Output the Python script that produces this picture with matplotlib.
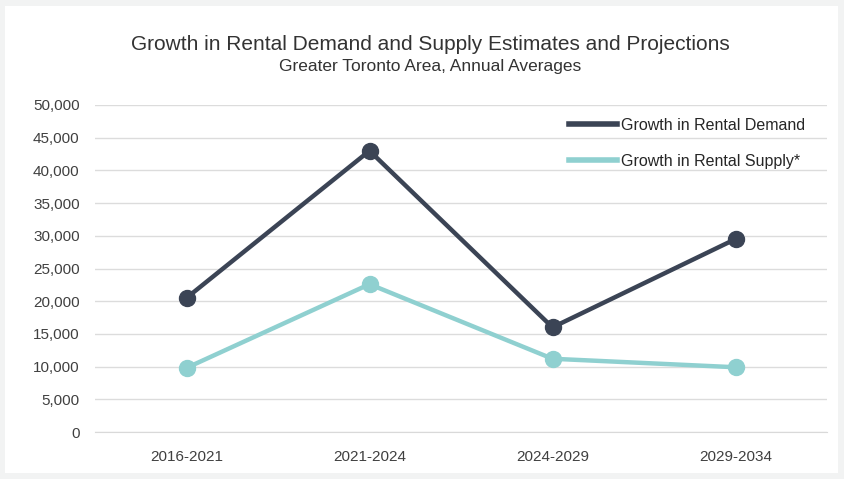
import matplotlib.pyplot as plt
from matplotlib.patches import Rectangle
from matplotlib.lines import Line2D
from matplotlib.ticker import FuncFormatter

# annual averages, Greater Toronto Area
periods = ["2016-2021", "2021-2024", "2024-2029", "2029-2034"]
rental_demand = [20500, 43000, 16000, 29500]
rental_supply = [9800, 22600, 11200, 9900]

plt.rcParams['font.family'] = ['Liberation Sans', 'DejaVu Sans']

demand_color = '#3b4455'
supply_color = '#8fd0d0'

W, H = 844, 479
fig = plt.figure(figsize=(W / 100, H / 100), dpi=100, facecolor='#f2f3f3')

# white card on the light grey frame
fig.patches.append(Rectangle((5 / W, 1 - 473 / H), 833 / W, 467 / H,
                             transform=fig.transFigure, facecolor='white',
                             edgecolor='none', zorder=-10))

ax = fig.add_axes([95 / W, 1 - 432 / H, 732 / W, 327 / H])
ax.set_facecolor('none')

x = range(len(periods))
ax.plot(x, rental_demand, color=demand_color, linewidth=3.2, marker='o',
        markersize=11.5, zorder=3)
ax.plot(x, rental_supply, color=supply_color, linewidth=3.2, marker='o',
        markersize=11.5, zorder=3)

ax.set_xlim(-0.5, 3.5)
ax.set_ylim(0, 50000)
ax.set_yticks(range(0, 50001, 5000))
ax.yaxis.set_major_formatter(FuncFormatter(lambda v, p: f"{int(v):,}"))
ax.set_xticks(list(x))
ax.set_xticklabels(periods)

ax.grid(axis='y', color='#dcdcdc', linewidth=1)
ax.set_axisbelow(True)
for side in ['top', 'right', 'left']:
    ax.spines[side].set_visible(False)
ax.spines['bottom'].set_color('#d9d9d9')
ax.tick_params(axis='both', length=0, colors='#404040')
ax.tick_params(axis='y', labelsize=11, pad=11)
ax.tick_params(axis='x', labelsize=11, pad=13)

# legend shows plain line swatches
handles = [Line2D([], [], color=demand_color, linewidth=4),
           Line2D([], [], color=supply_color, linewidth=4)]
ax.legend(handles, ["Growth in Rental Demand", "Growth in Rental Supply*"],
          loc='upper right', bbox_to_anchor=(0.99, 1.004), frameon=False,
          fontsize=11.5, handlelength=3.0, handletextpad=0.25,
          labelspacing=1.3, labelcolor='#262626')

fig.text(430 / W, 1 - 45 / H,
         "Growth in Rental Demand and Supply Estimates and Projections",
         ha='center', va='center', fontsize=15, color='#333333')
fig.text(430 / W, 1 - 67 / H, "Greater Toronto Area, Annual Averages",
         ha='center', va='center', fontsize=12.5, color='#333333')

fig.savefig("out.png", dpi=100, facecolor=fig.get_facecolor())
